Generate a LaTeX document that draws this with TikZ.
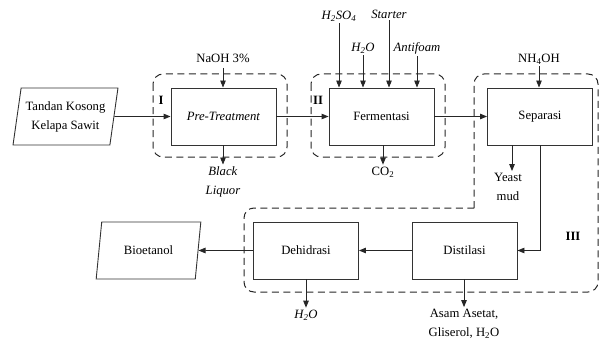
\documentclass[tikz,border=0pt]{standalone}
\usepackage{fontspec}
\setmainfont{Liberation Serif}
\usepackage{tikz}
\usetikzlibrary{arrows.meta,shapes.geometric}

\begin{document}
\begin{tikzpicture}[x=1pt, y=-1pt,
      font=\fontsize{12.7}{19}\selectfont,
      kotak/.style={rectangle, draw=black!80, line width=0.9pt,
                    minimum width=105, minimum height=57, align=center},
      jajar/.style={trapezium, trapezium left angle=78, trapezium right angle=102,
                    trapezium stretches=true, draw=black!80, line width=0.9pt,
                    minimum width=105, minimum height=57, align=center},
      panah/.style={-{Triangle[length=7pt,width=5.5pt]}, line width=0.9pt, draw=black!85},
      batas/.style={draw=black!85, line width=1pt, dash pattern=on 7pt off 4.5pt},
      teks/.style={align=center, inner sep=2pt},
      romawi/.style={font=\fontsize{12.7}{15}\selectfont\bfseries}
    ]
    \useasboundingbox (0,0) rectangle (601,342);
    % daerah proses
    \draw[batas, rounded corners=10] (153,74) rectangle (287,157);
    \draw[batas, rounded corners=10] (311,74) rectangle (445,157);
    \draw[batas] (474,208) [rounded corners=10] -- (474,74) -- (598,74) -- (598,292)
      -- (244,292) -- (244,208) [sharp corners] -- (474,208);
    \node[romawi] (r1) at (161,100) {I};
    \node[romawi] (r2) at (318,100) {II};
    \node[romawi] (r3) at (573,236) {III};

    % baris atas
    \node[jajar] (tkks) at (65.5,116.5) {Tandan Kosong\\Kelapa Sawit};
    \node[kotak] (pre) at (223.5,116.5) {\textit{Pre-Treatment}};
    \node[kotak] (fer) at (381.5,116.5) {Fermentasi};
    \node[kotak] (sep) at (540,116.5) {Separasi};
    % baris bawah
    \node[kotak] (dis) at (464.5,250.5) {Distilasi};
    \node[kotak] (deh) at (306,250.5) {Dehidrasi};
    \node[jajar] (bio) at (148.5,250.5) {Bioetanol};

    % bahan masuk dan keluar
    \node[teks] (naoh) at (223,58) {NaOH 3\%};
    \node[teks] (blq) at (223,182) {\textit{Black}\\\textit{Liquor}};
    \node[teks] (h2so4) at (339,16) {\textit{H\textsubscript{2}SO\textsubscript{4}}};
    \node[teks] (h2oa) at (363,48) {\textit{H\textsubscript{2}O}};
    \node[teks] (starter) at (389,14) {\textit{Starter}};
    \node[teks] (antifoam) at (417,48) {\textit{Antifoam}};
    \node[teks] (co2) at (383,172) {CO\textsubscript{2}};
    \node[teks] (nh4oh) at (539,59) {NH\textsubscript{4}OH};
    \node[teks] (yeast) at (508,187) {Yeast\\mud};
    \node[teks] (h2ob) at (306,315) {\textit{H\textsubscript{2}O}};
    \node[teks] (asam) at (464,324) {Asam Asetat,\\Gliserol, H\textsubscript{2}O};

    % aliran utama
    \draw[panah] (tkks.east) -- (pre.west);
    \draw[panah] (pre.east) -- (fer.west);
    \draw[panah] (fer.east) -- (sep.west);
    \draw[panah] (sep.south) |- (dis.east);
    \draw[panah] (dis.west) -- (deh.east);
    \draw[panah] (deh.west) -- (bio.east);

    % panah bahan
    \draw[panah] (naoh.south |- 0,68) -- (naoh.south |- pre.north);
    \draw[panah] (blq.north |- pre.south) -- (blq.north);
    \draw[panah] (h2so4.south) -- (h2so4.south |- fer.north);
    \draw[panah] (h2oa.south) -- (h2oa.south |- fer.north);
    \draw[panah] (starter.south) -- (starter.south |- fer.north);
    \draw[panah] (antifoam.south) -- (antifoam.south |- fer.north);
    \draw[panah] (co2.north |- fer.south) -- (co2.north);
    \draw[panah] (nh4oh.south) -- (nh4oh.south |- sep.north);
    \draw[panah] ([xshift=4]yeast.north |- sep.south) -- ([xshift=4]yeast.north);
    \draw[panah] (h2ob.north |- deh.south) -- (h2ob.north);
    \draw[panah] (asam.north |- dis.south) -- (asam.north);
  \end{tikzpicture}
\end{document}
